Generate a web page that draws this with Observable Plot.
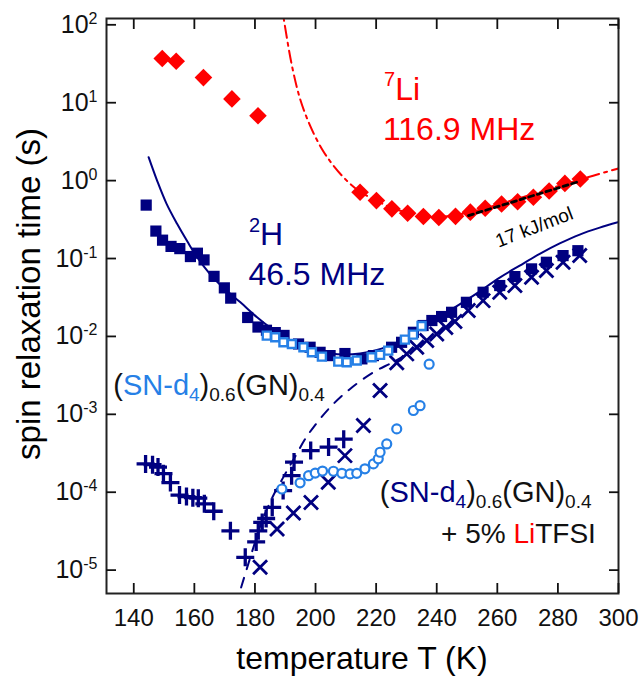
<!DOCTYPE html>
<html><head><meta charset="utf-8">
<script src="https://cdn.jsdelivr.net/npm/d3@7"></script>
<script src="https://cdn.jsdelivr.net/npm/@observablehq/plot@0.6"></script>
<style>
html,body{margin:0;padding:0;background:#fff;}
svg{display:block;}
</style></head><body><div id="chart"></div>
<script>
// ---------- data ----------
const xTicks = [140,160,180,200,220,240,260,280,300];
const yTicks = [1e-5,1e-4,1e-3,1e-2,1e-1,1,10,100];

// 7Li relaxation (red diamonds)
const liT = [149.4,154.0,163.0,172.4,181.0,214.7,220.1,225.2,230.4,235.6,240.7,246.2,251.1,256.0,261.4,266.7,271.9,277.1,282.3,287.4];
const liV = [37,34,21,11.2,6.8,0.708,0.554,0.434,0.381,0.347,0.336,0.348,0.394,0.441,0.500,0.535,0.611,0.736,0.921,1.047];

// 2H, filled navy squares
const sqT = [144.1,147.3,149.5,152.3,155.2,158.7,161.0,163.2,166.5,169.9,172.0,177.6,181.0,183.8,186.7,189.6,194.4,198.2,201.5,204.8,209.7,215.3,219.1,225.1,228.4,232.3,235.5,238.4,241.6,244.9,249.8,255.3,260.8,265.8,271.3,276.2,281.7,286.6];
const sqV = [0.485,0.225,0.172,0.143,0.134,0.106,0.117,0.096,0.059,0.042,0.031,0.0175,0.0132,0.0120,0.0112,0.0103,0.0080,0.00726,0.00625,0.00567,0.00603,0.00515,0.00567,0.00726,0.0084,0.0113,0.0138,0.0160,0.0180,0.0204,0.0274,0.0369,0.045,0.0586,0.0736,0.0895,0.109,0.126];

// 2H, open light-blue squares
const osT = [183.9,186.7,189.4,192.2,196.0,198.8,202.1,207.5,210.3,213.6,218.5,221.3,224.0,229.5,232.2,235.0];
const osV = [0.01025,0.00975,0.0084,0.0080,0.00726,0.00625,0.0055,0.00475,0.00466,0.0049,0.0054,0.0058,0.00658,0.0091,0.01055,0.0136];

// plus markers (navy)
const plT = [143.9,146.2,148.0,149.8,152.1,155.1,157.4,159.5,161.3,163.3,166.4,171.9,176.8,180.4,181.1,182.4,183.7,185.7,189.3,192.1,192.9,198.4,204.3,209.3];
const plV = [2.31e-4,2.26e-4,2.10e-4,1.73e-4,1.33e-4,9.2e-5,8.8e-5,8.5e-5,8.4e-5,7.1e-5,5.7e-5,3.2e-5,1.46e-5,2.3e-5,3.2e-5,4.1e-5,4.6e-5,6.4e-5,1.05e-4,1.63e-4,2.44e-4,3.42e-4,3.8e-4,4.8e-4];

// times markers (navy)
const tmT = [181.7,187.3,192.7,198.5,204.2,209.7,215.8,221.3,226.8,230.1,233.4,236.7,240.0,243.0,246.0,250.4,255.3,260.8,265.8,271.3,276.2,281.7,287.2];
const tmV = [1.09e-5,3.38e-5,5.4e-5,7.4e-5,1.34e-4,2.95e-4,7.2e-4,2.02e-3,4.6e-3,5.97e-3,7.26e-3,8.85e-3,0.01077,0.0130,0.0155,0.0215,0.0288,0.0368,0.0449,0.0574,0.070,0.0895,0.109];

// open light-blue circles
const ciT = [188.9,194.9,197.7,199.9,202.3,205.9,208.7,211.4,213.6,216.3,219.1,220.7,221.3,223.5,226.8,232.3,234.5,237.5];
const ciV = [1.10e-4,1.32e-4,1.63e-4,1.76e-4,1.87e-4,1.86e-4,1.75e-4,1.72e-4,1.75e-4,2.0e-4,2.31e-4,2.68e-4,3.26e-4,4.17e-4,6.5e-4,1.12e-3,1.29e-3,4.4e-3];

// fitted curves
const fitHT = [144.9,147.7,150.8,154.3,157.7,160.9,165.3,170.2,175.2,180.7,185.0,190.0,194.9,199.9,204.8,209.7,214.7,219.6,224.6,227.9,234.5,244.3,252.6,260.8,267.4,274.0,280.6,287.2,293.8,299.8];
const fitHV = [2.0,1.0,0.507,0.279,0.165,0.104,0.0622,0.0399,0.0274,0.0176,0.0130,0.00966,0.00762,0.00658,0.00603,0.00585,0.00603,0.00658,0.00762,0.00859,0.0126,0.0215,0.0344,0.0569,0.0811,0.1146,0.156,0.203,0.249,0.292];

const dashHT = [173.6,176.8,179.5,182.4,185.7,189.3,192.9,196.6,199.3,204.8,211.4,219.1,225.2,231.2,234.5];
const dashHV = [3.5e-6,8.95e-6,1.96e-5,4.3e-5,8.5e-5,1.54e-4,2.7e-4,4.84e-4,6.8e-4,1.23e-3,2.12e-3,3.47e-3,4.6e-3,6.2e-3,7.6e-3];

const fitLiT = [188.6,189.5,192.2,194.9,198.2,202.1,205.9,210.3,214.7,220,225,230,235,240,245,250,255,260,265,270,275,280,287,293,300];
const fitLiV = [200,120,30,11.2,5.08,2.55,1.56,1.0,0.72,0.555,0.45,0.39,0.355,0.345,0.355,0.385,0.43,0.49,0.56,0.64,0.73,0.85,1.02,1.2,1.43];

const arrT = [250.5,287.2];
const arrV = [0.356,0.98];

// ---------- styles ----------
const FONT = "'Liberation Sans', Arial, Helvetica, sans-serif";
const NAVY = "#000080", LBLUE = "#2680e6", RED = "#ff0000", INK = "#111";
const rOf = s => Math.sqrt(s / Math.PI);
const symSquare = {draw(c,s){const r=rOf(s);c.moveTo(-r,-r);c.lineTo(r,-r);c.lineTo(r,r);c.lineTo(-r,r);c.closePath();}};
const symDiamond = {draw(c,s){const r=rOf(s);c.moveTo(0,-r);c.lineTo(r,0);c.lineTo(0,r);c.lineTo(-r,0);c.closePath();}};
const symPlus = {draw(c,s){const r=rOf(s);c.moveTo(-r,0);c.lineTo(r,0);c.moveTo(0,-r);c.lineTo(0,r);}};
const symTimes = {draw(c,s){const r=rOf(s);c.moveTo(-r,-r);c.lineTo(r,r);c.moveTo(-r,r);c.lineTo(r,-r);}};

const rows = (T, V) => T.map((t, i) => ({T: t, v: V[i]}));

const plot = Plot.plot({
  width: 640, height: 678,
  marginLeft: 106, marginRight: 22, marginTop: 18, marginBottom: 85,
  style: {fontFamily: FONT, background: "#fff", color: INK},
  x: {domain: [131, 300]},
  y: {type: "log", domain: [Math.pow(10, -5.3), Math.pow(10, 2.081)]},
  marks: [
    Plot.line(rows(fitLiT, fitLiV), {x: "T", y: "v", stroke: RED, strokeWidth: 2, strokeDasharray: "12,5,3,5", curve: "catmull-rom", clip: true}),
    Plot.line(rows(fitHT, fitHV), {x: "T", y: "v", stroke: NAVY, strokeWidth: 2, curve: "catmull-rom", clip: true}),
    Plot.line(rows(dashHT, dashHV), {x: "T", y: "v", stroke: NAVY, strokeWidth: 2, strokeDasharray: "10,9", curve: "catmull-rom", clip: true}),
    Plot.dot(rows(sqT, sqV), {x: "T", y: "v", symbol: symSquare, r: 5.6, fill: NAVY, stroke: "none"}),
    Plot.dot(rows(tmT, tmV), {x: "T", y: "v", symbol: symTimes, r: 7, fill: "none", stroke: NAVY, strokeWidth: 2.8}),
    Plot.dot(rows(plT, plV), {x: "T", y: "v", symbol: symPlus, r: 9, fill: "none", stroke: NAVY, strokeWidth: 3.3}),
    Plot.dot(rows(osT, osV), {x: "T", y: "v", symbol: symSquare, r: 4, fill: "#fff", stroke: LBLUE, strokeWidth: 2.4}),
    Plot.dot(rows(ciT, ciV), {x: "T", y: "v", r: 4.5, fill: "#fff", stroke: LBLUE, strokeWidth: 2.2}),
    Plot.dot(rows(liT, liV), {x: "T", y: "v", symbol: symDiamond, r: 8.8, fill: RED, stroke: "none"}),
    Plot.line(rows(arrT, arrV), {x: "T", y: "v", stroke: "#000", strokeWidth: 2.8, strokeDasharray: "5,4"}),
    Plot.frame({stroke: "#222", strokeWidth: 2}),
    Plot.axisX({anchor: "bottom", ticks: xTicks, tickSize: -10, tickPadding: 25, tickFormat: d => String(d), fontSize: 24, label: null, strokeWidth: 1.8}),
    Plot.axisX({anchor: "top", ticks: xTicks, tickSize: -10, tickFormat: () => "", label: null, strokeWidth: 1.8}),
    Plot.axisY({anchor: "left", ticks: yTicks, tickSize: -10, tickPadding: 19, tickFormat: d => "10^" + Math.round(Math.log10(d)), fontSize: 25, label: null, strokeWidth: 1.8}),
    Plot.axisY({anchor: "right", ticks: yTicks, tickSize: -10, tickFormat: () => "", label: null, strokeWidth: 1.8})
  ]
});
document.getElementById("chart").appendChild(plot);

// superscript exponents on the y tick labels
d3.select(plot).selectAll('g[aria-label="y-axis tick label"] text').each(function () {
  const m = this.textContent.match(/^10\^(-?\d+)$/);
  if (!m) return;
  const t = d3.select(this);
  t.text(null);
  t.append("tspan").text("10");
  t.append("tspan").text(m[1]).attr("font-size", 16).attr("dy", -9);
});

// ---------- annotations ----------
const X = plot.scale("x"), Y = plot.scale("y");
const svg = d3.select(plot);
const g = svg.append("g").attr("font-family", FONT);

function rich(T, v, segs, o) {
  const t = g.append("text")
    .attr("x", X.apply(T)).attr("y", Y.apply(v))
    .attr("font-size", o.size).attr("text-anchor", o.anchor || "start")
    .attr("fill", o.fill || INK);
  let shift = 0;
  for (const s of segs) {
    const target = s.sub ? o.subDy : s.sup ? -o.supDy : 0;
    const ts = t.append("tspan").text(s.t).attr("dy", target - shift);
    if (s.c) ts.attr("fill", s.c);
    if (s.sub || s.sup) ts.attr("font-size", o.small);
    shift = target;
  }
  return t;
}

rich(222.8, 10.7, [{t: "7", sup: true}, {t: "Li"}], {size: 32, small: 20, supDy: 14, fill: RED});
rich(222.4, 3.27, [{t: "116.9 MHz"}], {size: 32, fill: RED});
rich(178.2, 0.147, [{t: "2", sup: true}, {t: "H"}], {size: 32, small: 20, supDy: 13, fill: NAVY});
rich(178.0, 0.0444, [{t: "46.5 MHz"}], {size: 32, fill: NAVY});

const sample = c => [
  {t: "("}, {t: "SN-d", c}, {t: "4", c, sub: true}, {t: ")"}, {t: "0.6", sub: true},
  {t: "(GN)"}, {t: "0.4", sub: true}
];
rich(133.4, 1.74e-3, sample(LBLUE), {size: 29, small: 19, subDy: 6});
rich(221.4, 7.45e-5, sample(NAVY), {size: 29, small: 19, subDy: 6});
rich(292.7, 2.18e-5, [{t: "+ 5% "}, {t: "Li", c: RED}, {t: "TFSI"}], {size: 28, anchor: "end"});

g.append("text")
  .attr("transform", `translate(${X.apply(272.3)},${Y.apply(0.25)}) rotate(-21)`)
  .attr("text-anchor", "middle").attr("dominant-baseline", "central")
  .attr("font-size", 19).attr("fill", "#000").text("17 kJ/mol");

// axis titles
g.append("text").attr("x", 362).attr("y", 669).attr("text-anchor", "middle")
  .attr("font-size", 32).attr("fill", "#000").text("temperature T (K)");
g.append("text").attr("transform", "translate(40,294) rotate(-90)").attr("text-anchor", "middle")
  .attr("font-size", 33).attr("fill", "#000").text("spin relaxation time (s)");
</script>
</body></html>
